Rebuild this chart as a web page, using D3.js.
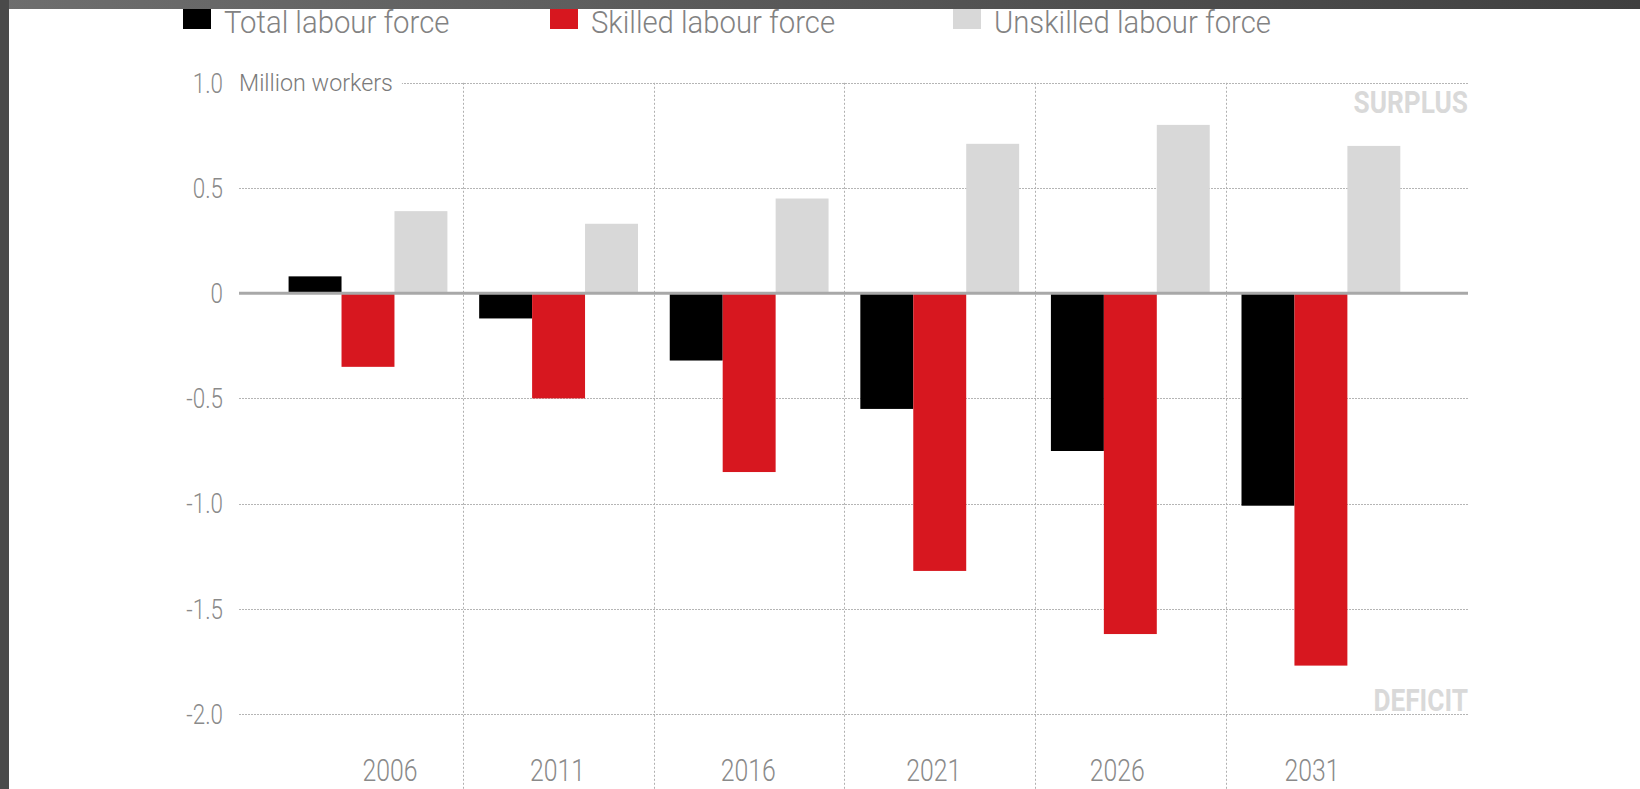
<!doctype html>
<html>
<head>
<meta charset="utf-8">
<title>Labour force surplus and deficit</title>
<script src="https://cdn.jsdelivr.net/npm/d3@7"></script>
<style>
  body { margin: 0; background: #fff; }
  svg { display: block; font-family: Roboto, "Noto Sans", sans-serif; }
</style>
</head>
<body>
<div id="chart"></div>
<script>
// data, million workers
const years = ["2006", "2011", "2016", "2021", "2026", "2031"];
const seriesNames = ["Total labour force", "Skilled labour force", "Unskilled labour force"];
const totalLabour = [0.08, -0.12, -0.32, -0.55, -0.75, -1.01];
const skilledLabour = [-0.35, -0.50, -0.85, -1.32, -1.62, -1.77];
const unskilledLabour = [0.39, 0.33, 0.45, 0.71, 0.80, 0.70];
const yTicks = [1.0, 0.5, 0, -0.5, -1.0, -1.5, -2.0];
const colors = ["#000000", "#d7171f", "#d8d8d8"];

const seriesValues = [totalLabour, skilledLabour, unskilledLabour];

const W = 1640, H = 789;
const svg = d3.select("#chart").append("svg")
  .attr("width", W)
  .attr("height", H);

// squeeze text horizontally to mimic a condensed face
function condense(sel, k) {
  sel.each(function () {
    const w = this.getComputedTextLength();
    this.setAttribute("textLength", w * k);
    this.setAttribute("lengthAdjust", "spacingAndGlyphs");
  });
}

const gridLeft = 239, gridRight = 1468;

const y = d3.scaleLinear().domain([-2, 1]).range([714, 82.8]);
const x0 = d3.scaleBand().domain(years).range([272.7, 1416.2]);
const x1 = d3.scaleBand().domain(seriesNames).range([0, x0.bandwidth()]).paddingOuter(0.3);

// horizontal grid
svg.append("g")
  .selectAll("line")
  .data(yTicks.filter(d => d !== 0))
  .join("line")
    .attr("x1", gridLeft)
    .attr("x2", gridRight)
    .attr("y1", d => Math.round(y(d)) + 0.5)
    .attr("y2", d => Math.round(y(d)) + 0.5)
    .attr("stroke", "#b5b5b5")
    .attr("stroke-dasharray", "2,1");

// vertical separators between years
svg.append("g")
  .selectAll("line")
  .data(years.slice(1))
  .join("line")
    .attr("x1", d => Math.round(x0(d)) + 0.5)
    .attr("x2", d => Math.round(x0(d)) + 0.5)
    .attr("y1", y(1))
    .attr("y2", H)
    .attr("stroke", "#b0b0b0")
    .attr("stroke-dasharray", "2,2");

// y axis labels
const yLab = svg.append("g")
  .selectAll("text")
  .data(yTicks)
  .join("text")
    .attr("x", 223)
    .attr("y", d => y(d))
    .attr("dy", "0.35em")
    .attr("text-anchor", "end")
    .attr("fill", "#8a8a8a")
    .attr("font-size", 28)
    .attr("font-weight", 300)
    .text(d => d === 0 ? "0" : d3.format(".1f")(d).replace("−", "-"));
condense(yLab, 0.8);

// unit label, with a white patch that cuts the top grid line
const unit = svg.append("text")
  .attr("x", 239)
  .attr("y", y(1))
  .attr("dy", "0.35em")
  .attr("fill", "#7a7a7a")
  .attr("font-size", 24)
  .attr("font-weight", 300)
  .text("Million workers");
condense(unit, 0.97);
const ub = unit.node().getBBox();
svg.insert("rect", () => unit.node())
  .attr("x", ub.x - 2)
  .attr("y", ub.y)
  .attr("width", ub.width + 11)
  .attr("height", ub.height)
  .attr("fill", "#fff");

// bars
const groups = svg.append("g")
  .selectAll("g")
  .data(years)
  .join("g")
    .attr("transform", d => `translate(${x0(d)},0)`);

groups.selectAll("rect")
  .data((yr, i) => seriesNames.map((s, j) => ({ s, v: seriesValues[j][i], c: colors[j] })))
  .join("rect")
    .attr("x", d => x1(d.s))
    .attr("width", x1.bandwidth())
    .attr("y", d => y(Math.max(0, d.v)))
    .attr("height", d => Math.abs(y(d.v) - y(0)))
    .attr("fill", d => d.c);

// zero line
svg.append("line")
  .attr("x1", gridLeft)
  .attr("x2", gridRight)
  .attr("y1", y(0))
  .attr("y2", y(0))
  .attr("stroke", "#a8a8a8")
  .attr("stroke-width", 3);

// year labels (the original sets them a little off the band centres)
const yearNudge = [22, -1, -1, -6, -13, -9];
const xLab = svg.append("g")
  .selectAll("text")
  .data(years)
  .join("text")
    .attr("x", (d, i) => x0(d) + x0.bandwidth() / 2 + yearNudge[i])
    .attr("y", 781)
    .attr("text-anchor", "middle")
    .attr("fill", "#8a8a8a")
    .attr("font-size", 31)
    .attr("font-weight", 300)
    .text(d => d);
condense(xLab, 0.8);

// surplus / deficit tags
const tags = svg.append("g")
  .selectAll("text")
  .data([["SURPLUS", 113.3], ["DEFICIT", 711]])
  .join("text")
    .attr("x", gridRight)
    .attr("y", d => d[1])
    .attr("text-anchor", "end")
    .attr("fill", "#d9d9d9")
    .attr("font-size", 32)
    .attr("font-weight", 700)
    .text(d => d[0]);
condense(tags, 0.82);

// legend
const legendX = [183, 550, 953];
const legend = svg.append("g")
  .selectAll("g")
  .data(seriesNames)
  .join("g")
    .attr("transform", (d, i) => `translate(${legendX[i]},0)`);
legend.append("rect")
  .attr("x", 0)
  .attr("y", 1)
  .attr("width", 28)
  .attr("height", 28)
  .attr("fill", (d, i) => colors[i]);
const legText = legend.append("text")
  .attr("x", 41)
  .attr("y", 33)
  .attr("fill", "#828282")
  .attr("font-size", 31)
  .attr("font-weight", 300)
  .text(d => d);
condense(legText, 0.945);

// dark frame at the top and left
const grad = svg.append("defs").append("linearGradient")
  .attr("id", "frameTop");
grad.append("stop").attr("offset", "0%").attr("stop-color", "#6e6e6e");
grad.append("stop").attr("offset", "100%").attr("stop-color", "#404040");
svg.append("rect")
  .attr("x", 0).attr("y", 0)
  .attr("width", W).attr("height", 9)
  .attr("fill", "url(#frameTop)");
svg.append("rect")
  .attr("x", 0).attr("y", 0)
  .attr("width", 9).attr("height", H)
  .attr("fill", "#4a4a4a");
</script>
</body>
</html>
